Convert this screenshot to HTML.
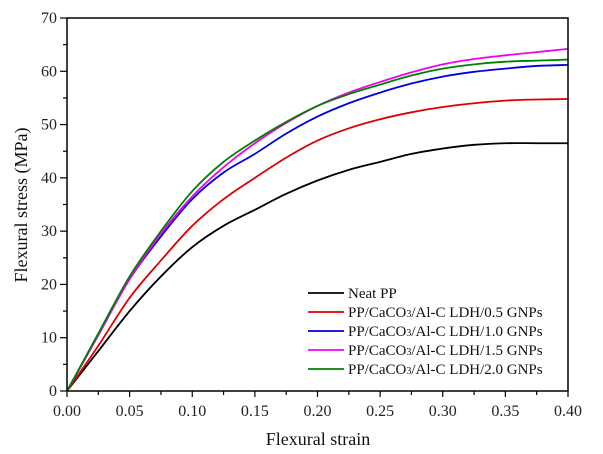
<!DOCTYPE html>
<html><head><meta charset="utf-8"><style>
body{margin:0;background:#fff}
svg{display:block;font-family:"Liberation Serif",serif}
</style></head><body>
<svg id="c" width="603" height="454" viewBox="0 0 603 454"></svg>
<script>
const strains=[0,0.025,0.05,0.075,0.1,0.125,0.15,0.175,0.2,0.225,0.25,0.275,0.3,0.325,0.35,0.375,0.4];
const seriesNames=["Neat PP","PP/CaCO3/Al-C LDH/0.5 GNPs","PP/CaCO3/Al-C LDH/1.0 GNPs","PP/CaCO3/Al-C LDH/1.5 GNPs","PP/CaCO3/Al-C LDH/2.0 GNPs"];
const neatPP=[0,7.5,15,21.5,27,31,34,37,39.5,41.5,43,44.5,45.5,46.2,46.5,46.5,46.5];
const gnp05=[0,8.5,17.5,24.5,31,36,40,43.8,47,49.3,51,52.3,53.3,54,54.5,54.7,54.8];
const gnp10=[0,10.5,21,29,36,41,44.5,48.3,51.5,54,56,57.7,59,59.9,60.5,61,61.2];
const gnp15=[0,10.5,21,29.5,36.5,42,46.5,50.3,53.5,56,58,59.8,61.3,62.3,63,63.6,64.2];
const gnp20=[0,10.8,21.5,30,37.5,43,47,50.5,53.5,55.7,57.5,59.2,60.5,61.3,61.8,62,62.2];
const colors=["#000","#e00000","#0000e0","#f000f0","#008000"];
const xTicks=["0.00","0.05","0.10","0.15","0.20","0.25","0.30","0.35","0.40"];
const yTicks=["0","10","20","30","40","50","60","70"];
const svg=document.getElementById('c');const NS="http://www.w3.org/2000/svg";
const X0=67,X1=568,Y0=391,Y1=18;
const sx=v=>X0+(v/0.4)*(X1-X0), sy=v=>Y0-(v/70)*(Y0-Y1);
function mk(t,a,p){const e=document.createElementNS(NS,t);for(const k in a)e.setAttribute(k,a[k]);(p||svg).appendChild(e);return e;}
const all=[neatPP,gnp05,gnp10,gnp15,gnp20];
all.forEach((s,i)=>{const pts=strains.map((x,j)=>[sx(x),sy(s[j])]);
 let d="M"+pts[0][0]+","+pts[0][1];
 for(let j=0;j<pts.length-1;j++){const p0=pts[Math.max(0,j-1)],p1=pts[j],p2=pts[j+1],p3=pts[Math.min(pts.length-1,j+2)];
  d+=` C${p1[0]+(p2[0]-p0[0])/6},${p1[1]+(p2[1]-p0[1])/6} ${p2[0]-(p3[0]-p1[0])/6},${p2[1]-(p3[1]-p1[1])/6} ${p2[0]},${p2[1]}`;}
 const e=mk('path',{d:d,fill:'none',stroke:colors[i],'stroke-width':1.8});
 
 
});
const box=mk('rect',{x:X0,y:Y1,width:X1-X0,height:Y0-Y1,fill:'none',stroke:'#000','stroke-width':1.5});


xTicks.forEach((t,i)=>{const v=+t,x=sx(v);mk('line',{x1:x,y1:Y0,x2:x,y2:Y0+6,stroke:'#000','stroke-width':1.2});
 if(i<xTicks.length-1){const xm=sx(v+0.025);mk('line',{x1:xm,y1:Y0,x2:xm,y2:Y0+4,stroke:'#000','stroke-width':1.2});}
 const tx=mk('text',{x:x,y:Y0+25,'text-anchor':'middle','font-size':16,fill:'#222'});tx.textContent=t;
 
 });
yTicks.forEach((t,i)=>{const v=+t,y=sy(v);mk('line',{x1:X0-7,y1:y,x2:X0,y2:y,stroke:'#000','stroke-width':1.2});
 if(i<yTicks.length-1){const ym=sy(v+5);mk('line',{x1:X0-4,y1:ym,x2:X0,y2:ym,stroke:'#000','stroke-width':1.2});}
 const tx=mk('text',{x:X0-10,y:y+5,'text-anchor':'end','font-size':16,fill:'#222'});tx.textContent=t;
 
 });
seriesNames.forEach((n,i)=>{const y=293+i*19;
 const l=mk('line',{x1:308,y1:y,x2:344,y2:y,stroke:colors[i],'stroke-width':1.8});
 
 
 const tx=mk('text',{x:348,y:y+5,'font-size':15,fill:'#111'});
 const m=n.match(/^(.*CaCO)3(.*)$/);
 if(m){tx.appendChild(document.createTextNode(m[1]));const s=mk('tspan',{'font-size':10},tx);s.textContent='3';tx.appendChild(document.createTextNode(m[2]));}
 else tx.textContent=n;
 
 });
</script>
<svg style="position:absolute;left:0;top:0" width="603" height="454">
<text x="318" y="445" text-anchor="middle" font-family="Liberation Serif,serif" font-size="18" fill="#111">Flexural strain</text>
<text transform="translate(27,205) rotate(-90)" text-anchor="middle" font-family="Liberation Serif,serif" font-size="18" fill="#111">Flexural stress (MPa)</text>
</svg>
</body></html>
